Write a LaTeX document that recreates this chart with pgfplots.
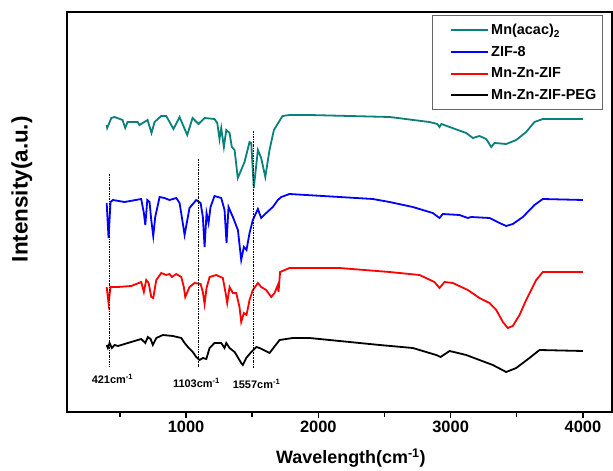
\documentclass[border=0pt]{standalone}
\usepackage{fontspec}
\setmainfont{Liberation Sans}
\usepackage{pgfplots}
\pgfplotsset{compat=1.18}
\definecolor{acac}{RGB}{10,128,122}
\begin{document}
\begin{tikzpicture}
\begin{axis}[
  scale only axis, width=545bp, height=400bp,
  xmin=100, xmax=4220, ymin=57, ymax=457,
  xtick={1000,2000,3000,4000},
  minor xtick={500,1500,2500,3500},
  ytick=\empty,
  xtick pos=bottom, tick align=outside,
  major tick length=6bp, minor tick length=5bp,
  every tick/.style={black, line width=1.4bp},
  axis line style={line width=1.8bp},
  /pgf/number format/1000 sep={},
  /pgf/number format/assume math mode=true,
  tick label style={font=\fontsize{16.5}{18}\selectfont\bfseries},
  xlabel={Wavelength(cm\textsuperscript{-1})},
  ylabel={Intensity(a.u.)},
  xlabel style={font=\fontsize{18}{20}\selectfont\bfseries, at={(axis description cs:0.521,0)}, anchor=center, yshift=-46bp},
  ylabel style={font=\fontsize{22.5}{24}\selectfont\bfseries, at={(axis description cs:-0.083,0.557)}, anchor=center},
  legend cell align=left,
  legend style={at={(axis description cs:0.983,0.9925)}, anchor=north east,
    draw=gray!80!black, line width=0.8bp, font=\fontsize{14.5}{16}\selectfont\bfseries,
    inner xsep=4bp, inner ysep=7bp, row sep=6bp},
  legend image code/.code={\path (0bp,0bp); \draw[#1, line width=2bp] (14bp,0bp) -- (51bp,0bp);},
]
% Mn(acac)2
\addplot[acac, line width=1.8bp] coordinates {
(400,344)(404,341)(435,351)(460,352)(520,349)(540,341)(558,347)(633,347)(648,344)
(709,349)(739,336)(762,347)(812,353)(850,353)(905,340)(951,352)(1009,334)(1049,351)
(1094,345)(1140,351)(1215,350)(1236,346)(1253,330)(1266,341)(1286,322)(1304,339)
(1329,336)(1346,322)(1367,319)(1391,291)(1417,299)(1442,307)(1480,327)(1493,326)
(1512,281)(1543,319)(1568,311)(1599,292)(1631,319)(1664,339)(1729,353)(1782,354)
(1933,354)(2538,352)(2840,347)(2900,345)(2916,342)(2930,345)(2992,342)(3118,336)
(3168,331)(3218,333)(3269,330)(3307,322)(3332,326)(3420,325)(3496,329)(3571,337)
(3634,347)(3697,350)(4000,350)};
\addlegendentry{Mn(acac)\textsubscript{2}}
% ZIF-8
\addplot[blue, line width=1.8bp] coordinates {
(400,266)(414,231)(429,267)(447,269)(535,267)(661,270)(681,256)(692,244)(707,269)
(724,267)(737,249)(752,233)(767,252)(800,272)(837,271)(875,269)(926,271)(951,266)
(968,252)(989,234)(1026,261)(1077,269)(1110,266)(1127,252)(1140,222)(1155,256)
(1170,246)(1185,262)(1215,273)(1266,271)(1291,259)(1306,226)(1321,262)(1354,252)
(1392,239)(1417,209)(1437,222)(1457,219)(1480,236)(1505,249)(1543,260)(1568,251)
(1606,256)(1656,262)(1694,269)(1720,272)(1782,275)(2160,272)(2412,270)(2538,267)
(2714,262)(2865,256)(2916,251)(2941,255)(3067,254)(3130,251)(3156,252)(3294,251)
(3370,246)(3420,243)(3470,245)(3546,252)(3634,264)(3697,270)(4000,269)};
\addlegendentry{ZIF-8}
% Mn-Zn-ZIF
\addplot[red, line width=1.8bp] coordinates {
(400,182)(414,166)(429,182)(485,182)(586,183)(661,187)(681,177)(699,189)(717,186)
(737,172)(752,171)(775,189)(813,196)(850,194)(875,195)(893,192)(926,195)(964,192)
(983,182)(994,172)(1026,182)(1064,186)(1110,185)(1127,177)(1140,165)(1155,181)
(1178,192)(1228,194)(1278,191)(1299,176)(1311,166)(1329,182)(1354,176)(1379,176)
(1404,162)(1417,147)(1437,156)(1457,154)(1480,169)(1505,179)(1543,186)(1568,182)
(1606,179)(1644,172)(1669,176)(1694,184)(1699,177)(1711,197)(1782,201)(2160,201)
(2538,197)(2765,194)(2878,187)(2916,181)(2954,187)(3017,186)(3130,179)(3218,171)
(3294,166)(3345,159)(3395,147)(3432,141)(3470,143)(3521,154)(3571,169)(3647,189)
(3697,197)(4000,197)};
\addlegendentry{Mn-Zn-ZIF}
% Mn-Zn-ZIF-PEG
\addplot[black, line width=1.8bp] coordinates {
(400,124)(409,121)(422,126)(439,121)(460,124)(485,123)(560,126)(661,130)(692,126)
(711,132)(732,130)(749,124)(775,131)(825,134)(900,133)(964,131)(989,126)(1014,122)
(1051,117)(1077,112)(1102,109)(1127,111)(1153,110)(1178,121)(1215,126)(1266,126)
(1291,121)(1304,126)(1329,121)(1367,117)(1417,106)(1429,104)(1455,111)(1493,117)
(1531,122)(1556,121)(1631,116)(1707,129)(1807,131)(1933,131)(2463,124)(2714,121)
(2891,114)(2924,112)(2992,118)(3118,114)(3218,109)(3319,104)(3420,97)(3496,101)
(3596,111)(3672,119)(4000,118)};
\addlegendentry{Mn-Zn-ZIF-PEG}
% marker lines
\addplot[black, line width=0.9bp, dash pattern=on 2bp off 1bp on 0.8bp off 1bp, forget plot] coordinates {(421,295)(421,102)};
\addplot[black, line width=0.9bp, dash pattern=on 2bp off 1bp on 0.8bp off 1bp, forget plot] coordinates {(1097,310)(1097,102)};
\addplot[black, line width=0.9bp, dash pattern=on 2bp off 1bp on 0.8bp off 1bp, forget plot] coordinates {(1512,338)(1512,101)};
\node[font=\fontsize{11}{12}\selectfont\bfseries] at (axis cs:444,90) {421cm\textsuperscript{-1}};
\node[font=\fontsize{11}{12}\selectfont\bfseries] at (axis cs:1079,86) {1103cm\textsuperscript{-1}};
\node[font=\fontsize{11}{12}\selectfont\bfseries] at (axis cs:1533,85) {1557cm\textsuperscript{-1}};
\end{axis}
\path ([shift={(-67bp,-57bp)}]current axis.south west) rectangle ([shift={(1bp,12bp)}]current axis.north east);
\end{tikzpicture}
\end{document}
